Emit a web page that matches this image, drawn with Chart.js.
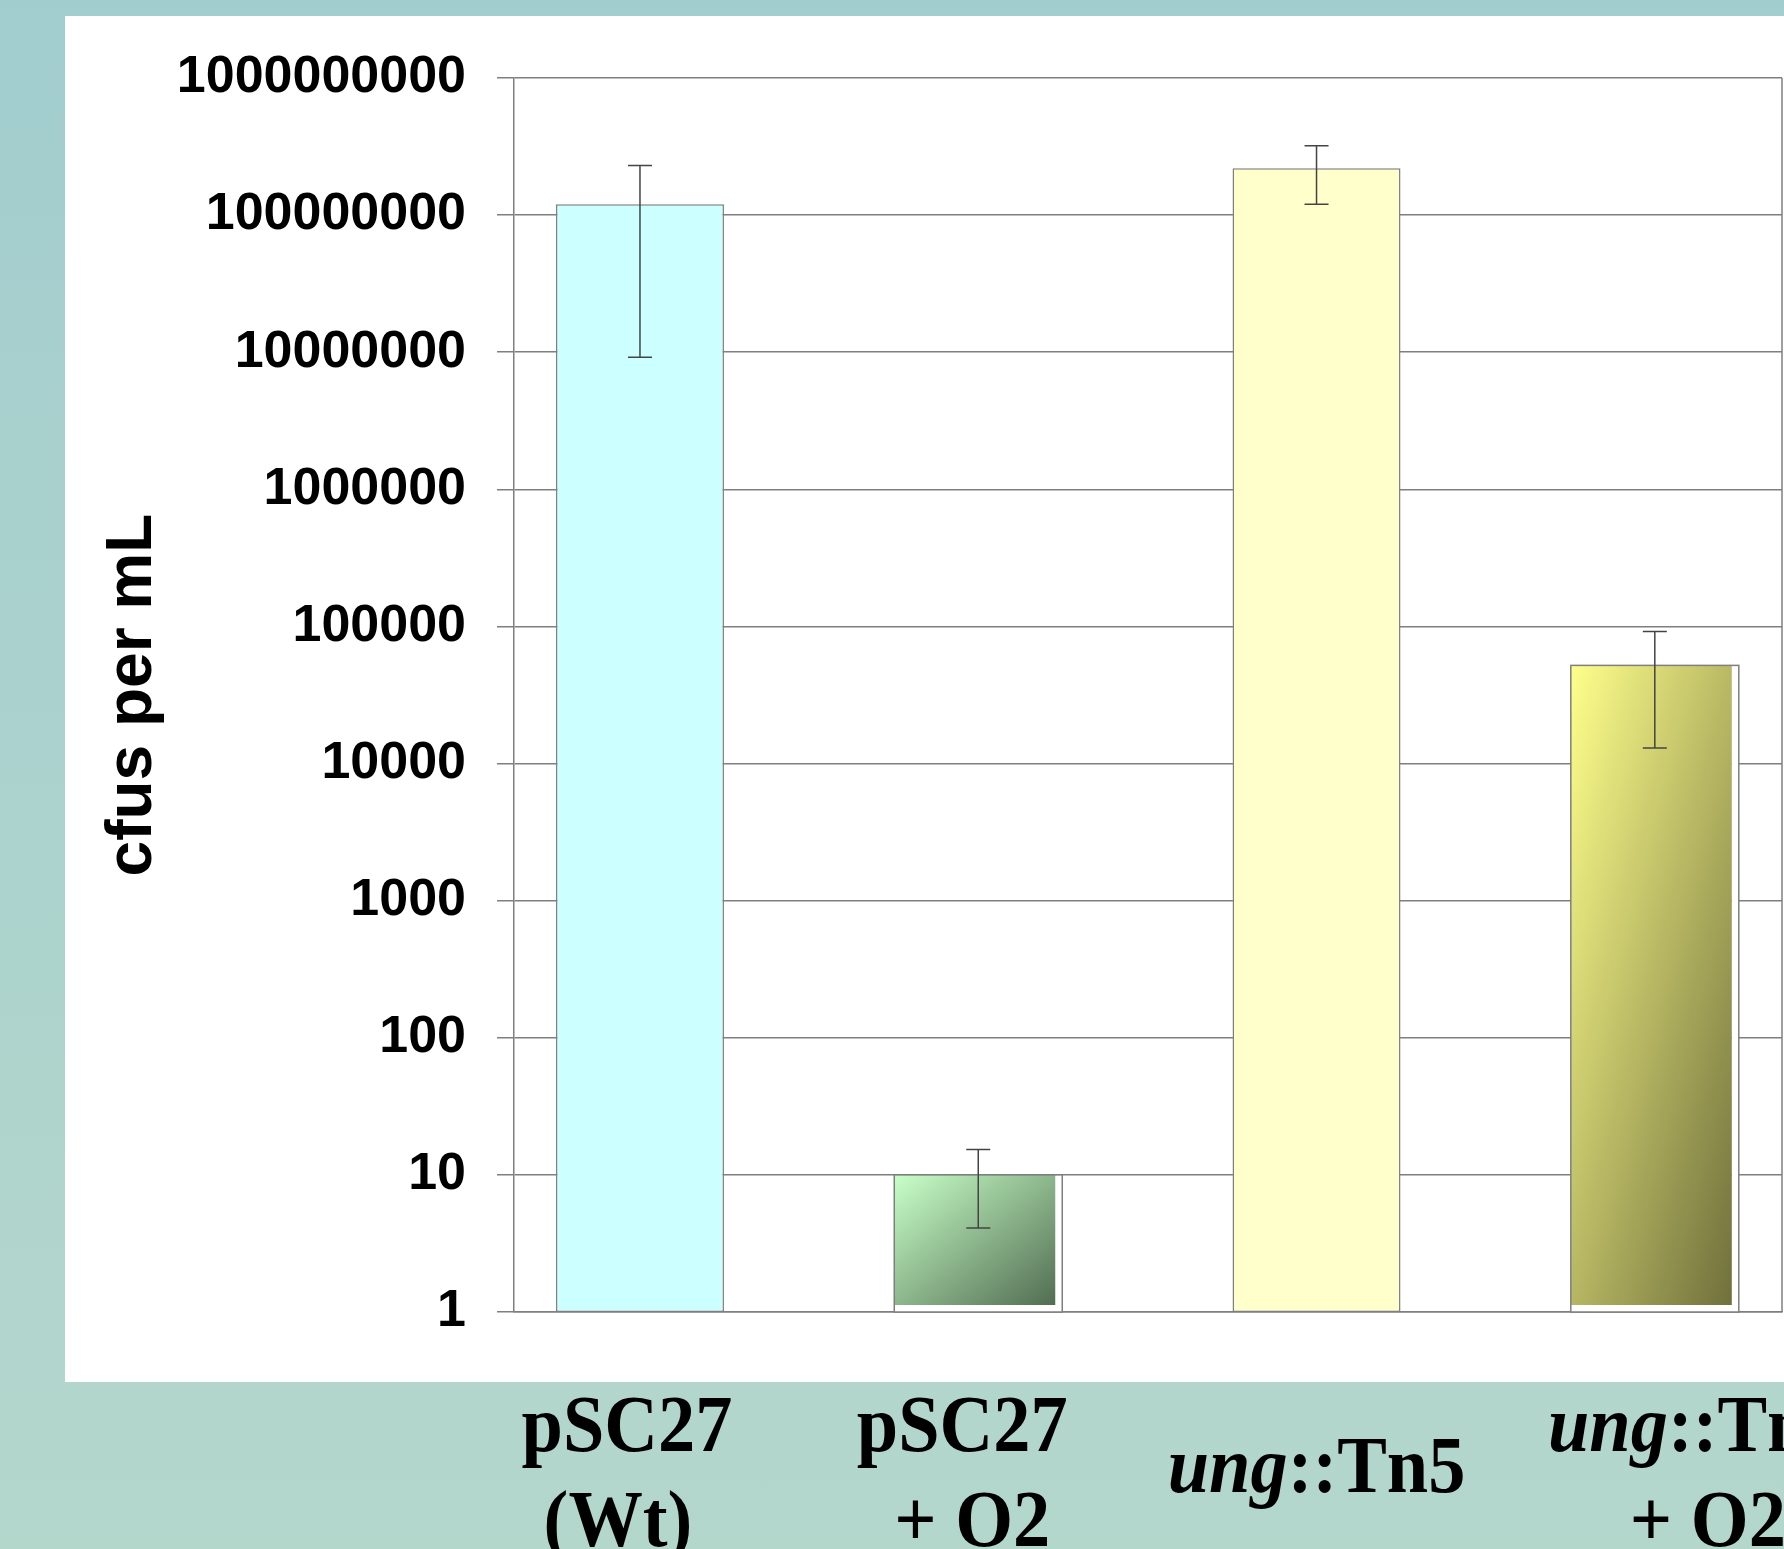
<!DOCTYPE html>
<html>
<head>
<meta charset="utf-8">
<script src="https://cdn.jsdelivr.net/npm/chart.js@4.4.0/dist/chart.umd.min.js"></script>
<style>
  html, body { margin: 0; padding: 0; }
  body {
    width: 1784px; height: 1549px; overflow: hidden; position: relative;
    background: linear-gradient(to bottom, #a2cdce 0%, #b4d7cc 100%);
  }
  #panel { position: absolute; left: 65px; top: 16px; width: 1719px; height: 1366px; background: #fff; }
  #chart { position: absolute; left: 0; top: 0; }
</style>
</head>
<body>
<div id="panel"></div>
<canvas id="chart" width="1784" height="1549"></canvas>
<script>
// strains on the x axis; text between underscores is set in italics
const strains = [['pSC27', '(Wt)'], ['pSC27', '+ O2'], ['_ung_::Tn5'], ['_ung_::Tn5', '+ O2']];
const cfus = [1.2e8, 10, 2.2e8, 5.2e4];
const errHigh = [2.3e8, 15.3, 3.2e8, 9.2e4];
const errLow = [9.2e6, 4.1, 1.2e8, 1.3e4];
const yTicks = [1, 10, 100, 1000, 10000, 100000, 1000000, 10000000, 100000000, 1000000000];

// plain colour, or [top-left, bottom-right] for the shaded bars
const barFills = ['#ccffff', ['#c8ffc8', '#4c664c'], '#ffffcc', ['#ffff8c', '#6c6c3a']];
const gridColor = '#7f7f7f';
const barPct = 0.4966;
// sideways shift of each label line from its bar centre
const labelNudge = [[-13, -22], [-16, -6], [0], [42, 53]];

function isShaded(i) {
    return Array.isArray(barFills[i]);
}

function barFill(c) {
    const f = barFills[c.dataIndex];
    if (typeof f === 'string') return f;
    const chart = c.chart;
    if (!chart.chartArea) return f[0];
    const xs = chart.scales.x, ys = chart.scales.y;
    const cx = xs.getPixelForValue(c.dataIndex);
    const w = (xs.getPixelForValue(1) - xs.getPixelForValue(0)) * barPct;
    const x0 = cx - w / 2;
    const y0 = ys.getPixelForValue(cfus[c.dataIndex]);
    const h = ys.bottom - y0;
    // corner to corner, mid tone along the other diagonal
    const k = 2 * w * h / (w * w + h * h);
    const g = chart.ctx.createLinearGradient(x0, y0, x0 + h * k, y0 + w * k);
    g.addColorStop(0, f[0]);
    g.addColorStop(0.5, mix(f[0], f[1]));
    g.addColorStop(1, f[1]);
    return g;
}

function mix(a, b) {
    const p = s => [1, 3, 5].map(j => parseInt(s.substr(j, 2), 16));
    const A = p(a), B = p(b);
    return 'rgb(' + A.map((v, j) => Math.round((v + B[j]) / 2)).join(',') + ')';
}

const extras = {
    id: 'extras',
    afterDatasetsDraw(chart) {
        const ctx = chart.ctx, xs = chart.scales.x, ys = chart.scales.y, area = chart.chartArea;
        const bars = chart.getDatasetMeta(0).data;
        ctx.save();
        ctx.lineWidth = 1.5;
        ctx.strokeStyle = gridColor;
        ctx.beginPath();
        ctx.moveTo(area.right, area.top);
        ctx.lineTo(area.right, area.bottom);
        ctx.stroke();

        // the shaded bars have their frame drawn a little outside the fill
        bars.forEach((b, i) => {
            if (!isShaded(i)) return;
            ctx.strokeRect(b.x - b.width / 2, b.y, b.width, b.base - b.y);
        });

        ctx.strokeStyle = '#444';
        for (let i = 0; i < cfus.length; i++) {
            const x = xs.getPixelForValue(i);
            const hi = ys.getPixelForValue(errHigh[i]);
            const lo = ys.getPixelForValue(errLow[i]);
            ctx.beginPath();
            ctx.moveTo(x, hi); ctx.lineTo(x, lo);
            ctx.moveTo(x - 12, hi); ctx.lineTo(x + 12, hi);
            ctx.moveTo(x - 12, lo); ctx.lineTo(x + 12, lo);
            ctx.stroke();
        }
        ctx.restore();
    },
    afterDraw(chart) {
        const ctx = chart.ctx, xs = chart.scales.x, ys = chart.scales.y;
        const plain = 'bold 80px "Liberation Serif"';
        const italic = 'italic bold 80px "Liberation Serif"';
        ctx.save();
        ctx.fillStyle = '#000';
        ctx.textBaseline = 'alphabetic';
        ctx.textAlign = 'left';
        for (let i = 0; i < strains.length; i++) {
            const lines = strains[i];
            for (let j = 0; j < lines.length; j++) {
                const cx = xs.getPixelForValue(i) + labelNudge[i][j];
                const base = lines.length === 2 ? ys.bottom + 139 + j * 95 : ys.bottom + 180;
                const parts = lines[j].split('_');
                let total = 0;
                parts.forEach((p, k) => { ctx.font = k % 2 ? italic : plain; total += ctx.measureText(p).width; });
                ctx.save();
                ctx.translate(cx, base);
                ctx.scale(0.93, 1);
                let x = -total / 2;
                parts.forEach((p, k) => {
                    ctx.font = k % 2 ? italic : plain;
                    ctx.fillText(p, x, 0);
                    x += ctx.measureText(p).width;
                });
                ctx.restore();
            }
        }
        ctx.restore();
    }
};

new Chart(document.getElementById('chart'), {
    type: 'bar',
    data: {
        datasets: [{
            data: cfus.map((v, i) => ({ x: i, y: v })),
            backgroundColor: barFill,
            borderColor: c => isShaded(c.dataIndex) ? '#ffffff' : gridColor,
            borderWidth: c => isShaded(c.dataIndex) ? { top: 0, left: 0, right: 7, bottom: 7 } : 1.5,
            borderSkipped: false,
            barPercentage: barPct,
            categoryPercentage: 1
        }]
    },
    options: {
        responsive: false,
        animation: false,
        layout: { padding: { left: 0, top: 78, right: 2, bottom: 229 } },
        plugins: { legend: { display: false }, tooltip: { enabled: false } },
        scales: {
            x: {
                type: 'linear',
                offset: false,
                bounds: 'data',
                min: -0.3724,
                max: 3.376,
                afterBuildTicks: function (scale) {
                    scale.ticks = strains.map((s, i) => ({ value: i }));
                },
                ticks: { display: false },
                grid: { display: false },
                border: { display: true, color: gridColor, width: 1.5 }
            },
            y: {
                type: 'logarithmic',
                min: 1,
                max: 1e9,
                afterBuildTicks: function (scale) {
                    scale.ticks = yTicks.map(v => ({ value: v }));
                },
                afterFit: function (scale) {
                    scale.width = 514;
                },
                ticks: {
                    padding: 31,
                    color: '#000',
                    font: { family: '"Liberation Sans"', size: 52, weight: 'bold' },
                    callback: v => String(v)
                },
                grid: { color: gridColor, lineWidth: 1.5, tickLength: 17 },
                border: { display: true, color: gridColor, width: 1.5 },
                title: {
                    display: true,
                    text: 'cfus per mL',
                    color: '#000',
                    padding: { top: 95, bottom: 0 },
                    font: { family: '"Liberation Sans"', size: 64, weight: 'bold', lineHeight: 1.2 }
                }
            }
        }
    },
    plugins: [extras]
});
</script>
</body>
</html>
